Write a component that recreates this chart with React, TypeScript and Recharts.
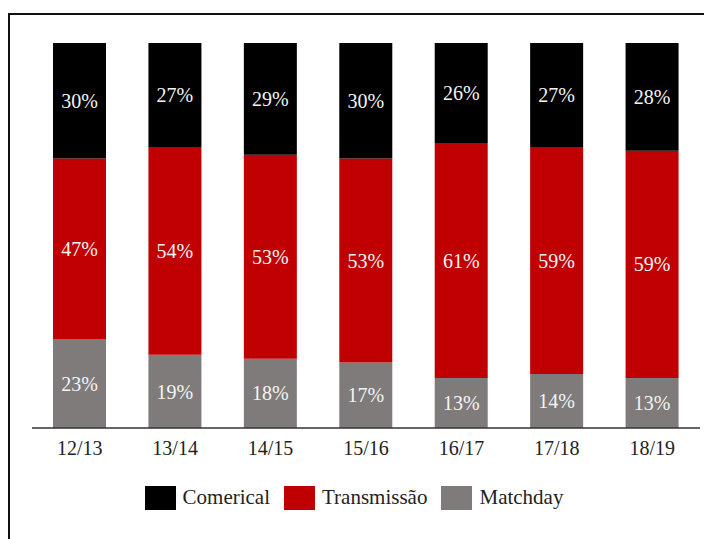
import React from 'react';
import { BarChart, Bar, XAxis, YAxis, Legend, LabelList } from 'recharts';

const seasons = ['12/13', '13/14', '14/15', '15/16', '16/17', '17/18', '18/19'];
const matchday = [23, 19, 18, 17, 13, 14, 13];
const transmissao = [47, 54, 53, 53, 61, 59, 59];
const comerical = [30, 27, 29, 30, 26, 27, 28];

const series = [
  { key: 'comerical', name: 'Comerical', color: '#000000' },
  { key: 'transmissao', name: 'Transmissão', color: '#c00000' },
  { key: 'matchday', name: 'Matchday', color: '#7f7b7b' },
];

const data = seasons.map((season, i) => ({
  season,
  matchday: matchday[i],
  transmissao: transmissao[i],
  comerical: comerical[i],
}));

const FONT = '"Liberation Serif", serif';

function LegendContent() {
  return (
    <div style={{ display: 'flex', justifyContent: 'center', alignItems: 'center', fontFamily: FONT, fontSize: 21, color: '#222' }}>
      {series.map((s) => (
        <div key={s.key} style={{ display: 'flex', alignItems: 'center', marginRight: 14 }}>
          <span style={{ display: 'inline-block', width: 31, height: 24, background: s.color, marginRight: 7 }} />
          <span>{s.name}</span>
        </div>
      ))}
    </div>
  );
}

const labelStyle = { fill: '#f4f4f4', fontSize: 20, fontFamily: FONT };

export default function App() {
  return (
    <div style={{ position: 'absolute', left: 0, top: 0, width: 704, height: 539, overflow: 'hidden', background: '#fff', fontFamily: FONT }}>
      <div
        style={{
          position: 'absolute',
          left: 8,
          top: 13,
          width: 900,
          height: 900,
          borderTop: '2px solid #111',
          borderLeft: '2px solid #111',
        }}
      />
      <BarChart
        width={704}
        height={539}
        data={data}
        margin={{ top: 43, right: 4, left: 32, bottom: 0 }}
        barSize={53}
        style={{ fontFamily: FONT }}
      >
        <XAxis
          dataKey="season"
          height={86}
          tickLine={false}
          tickSize={0}
          tickMargin={13}
          axisLine={{ stroke: '#333', strokeWidth: 1.5 }}
          tick={{ fontSize: 20, fill: '#222', style: { fontFamily: FONT } }}
        />
        <YAxis hide domain={[0, 100]} />
        <Legend
          content={<LegendContent />}
          wrapperStyle={{ position: 'absolute', top: 485, left: 2, width: 718 }}
        />
        <Bar dataKey="matchday" name="Matchday" stackId="a" fill="#7f7b7b" isAnimationActive={false}>
          <LabelList dataKey="matchday" position="center" formatter={(v: number) => `${v}%`} style={labelStyle} />
        </Bar>
        <Bar dataKey="transmissao" name="Transmissão" stackId="a" fill="#c00000" isAnimationActive={false}>
          <LabelList dataKey="transmissao" position="center" formatter={(v: number) => `${v}%`} style={labelStyle} />
        </Bar>
        <Bar dataKey="comerical" name="Comerical" stackId="a" fill="#000000" isAnimationActive={false}>
          <LabelList dataKey="comerical" position="center" formatter={(v: number) => `${v}%`} style={labelStyle} />
        </Bar>
      </BarChart>
    </div>
  );
}
